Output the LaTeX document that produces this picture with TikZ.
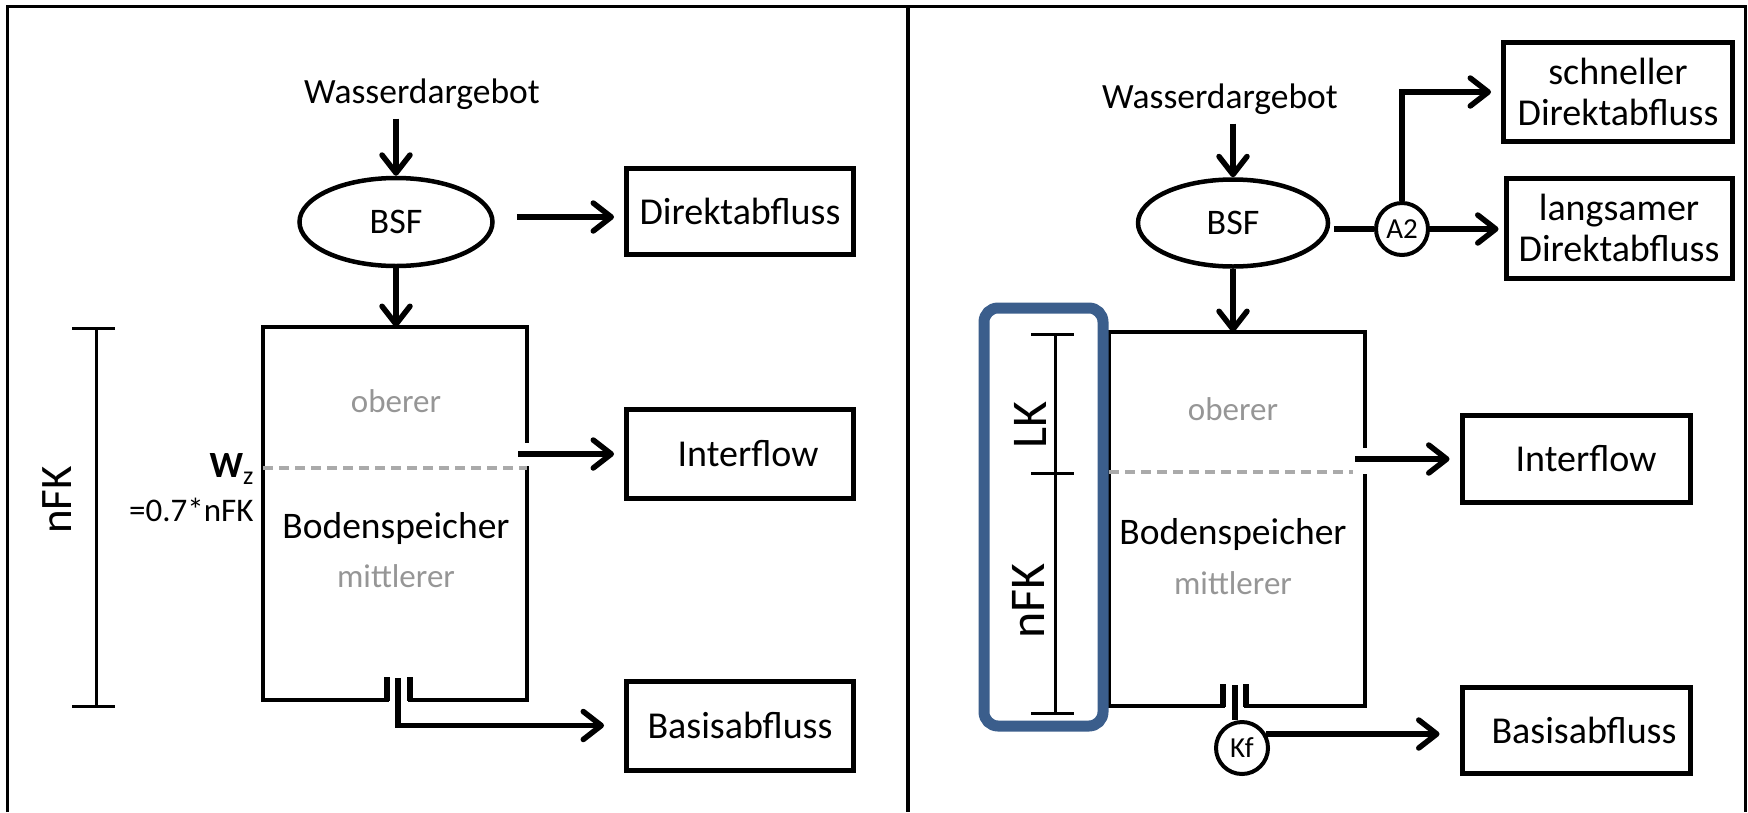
\documentclass[tikz,border=0pt]{standalone}
\usepackage{fontspec}
\setmainfont{Carlito}
\usetikzlibrary{arrows.meta,shapes.geometric}

\definecolor{rahmenblau}{RGB}{59,94,140}
\definecolor{strichgrau}{RGB}{170,170,170}
\definecolor{textgrau}{RGB}{150,150,150}

\newcommand{\schrift}[1]{\fontsize{#1}{#1}\selectfont}

\tikzset{
  kasten/.style={draw,line width=5pt,inner sep=0pt,align=center,font=\schrift{38}},
  ovall/.style={ellipse,draw,line width=4.5pt,inner sep=0pt,minimum width=193pt,minimum height=88pt,font=\schrift{36}},
  kreis/.style={circle,draw,line width=4pt,inner sep=0pt,minimum size=52pt,fill=white,font=\schrift{29}},
  pfeil/.style={line width=5.5pt,-{Straight Barb[length=18pt,width=28pt,round]}},
  linie/.style={line width=5.5pt},
  wand/.style={line width=4.5pt,line join=miter},
  mass/.style={line width=3pt},
  trennung/.style={line width=3.5pt,strichgrau,dash pattern=on 10pt off 6pt},
  grau/.style={text=textgrau,font=\schrift{33}}
}

\begin{document}
\begin{tikzpicture}[x=1pt,y=-1pt]
\useasboundingbox (0,0) rectangle (1748,812);
% Rahmen
\draw[line width=3pt] (7,812) -- (7,6) -- (1745,6) -- (1745,812);
\draw[line width=3.5pt] (908,6) -- (908,812);

% ---- links ----
\node[font=\schrift{35.5},anchor=base] (wasserL) at (422,103) {Wasserdargebot};
\node[ovall] (bsfL) at (396,222) {BSF};
\node[kasten,minimum width=227pt,minimum height=86pt] (direktL) at (740,211) {Direktabfluss};
\node[kasten,minimum width=227pt,minimum height=89pt] (interL) at (740,453.5) {\hspace*{16pt}Interflow};
\node[kasten,minimum width=227pt,minimum height=89pt] (basisL) at (740,725.5) {Basisabfluss};

% Bodenspeicher
\draw[wand] (387,678) -- (387,700) -- (263,700) -- (263,327) -- (527,327) -- (527,443);
\draw[wand] (527,466) -- (527,700) -- (410,700) -- (410,678);
\draw[line width=6pt] (387,677) -- (387,701) (410,677) -- (410,701);
\coordinate (topL) at (396,327);
\coordinate (ausL) at (518,454);
\coordinate (rohrL) at (398,678);
\draw[trennung] (263,468) -- (527,468);
\node[grau] (obenL) at (396,401) {oberer};
\node[font=\schrift{37.5}] (speicherL) at (396,528) {Bodenspeicher};
\node[grau] (mitteL) at (396,576) {mittlerer};
\node[anchor=base east,font=\schrift{37}] (wzL) at (257,477) {\textbf{W}\raisebox{-7pt}{\schrift{26}z}};
\node[anchor=base east,font=\schrift{33}] (wzwert) at (257,521) {=0.7*nFK};

\draw[pfeil,shorten <=6pt] (wasserL.south -| bsfL.north) -- (bsfL.north);
\draw[pfeil] (bsfL.south) -- (topL);
\draw[pfeil,shorten <=22pt,shorten >=10pt] ([yshift=5pt]bsfL.east) -- ([yshift=5pt]bsfL.east -| direktL.west);
\draw[pfeil,shorten >=10pt] (ausL) -- (ausL -| interL.west);
\draw[pfeil,shorten >=20pt] (rohrL) |- (basisL.west);

% nFK
\draw[mass] (72,328) -- (115,328) (96,328) -- (96,706) (72,706) -- (115,706);
\node[rotate=90,font=\schrift{45}] (nfkL) at (57,500) {nFK};

% ---- rechts ----
\node[font=\schrift{35.5},anchor=base] (wasserR) at (1220,108) {Wasserdargebot};
\node[ovall,minimum width=190pt,minimum height=87pt] (bsfR) at (1233,223) {BSF};
\node[kreis] (a2) at (1402,229) {A2};
\node[kasten,minimum width=229pt,minimum height=99pt,font=\fontsize{38}{41}\selectfont] (schnell) at (1618,92) {schneller\\Direktabfluss};
\node[kasten,minimum width=226pt,minimum height=100pt,font=\fontsize{38}{41}\selectfont] (langsam) at (1619,228) {langsamer\\Direktabfluss};
\node[kasten,minimum width=228pt,minimum height=87pt] (interR) at (1576,458.5) {\hspace*{20pt}Interflow};
\node[kasten,minimum width=228pt,minimum height=86pt] (basisR) at (1576,730) {\hspace*{16pt}Basisabfluss};

% Bodenspeicher
\draw[wand] (1223,685) -- (1223,706) -- (1109,706) -- (1109,332) -- (1365,332) -- (1365,448);
\draw[wand] (1365,474) -- (1365,706) -- (1246,706) -- (1246,685);
\draw[line width=6pt] (1223,684) -- (1223,707) (1246,684) -- (1246,707);
\coordinate (topR) at (1233,332);
\coordinate (ausR) at (1355,459);
\coordinate (rohrR) at (1235,685);
\draw[trennung] (1109,472) -- (1353,472);
\node[grau] (obenR) at (1233,409) {oberer};
\node[font=\schrift{37.5}] (speicherR) at (1233,534) {Bodenspeicher};
\node[grau] (mitteR) at (1233,583) {mittlerer};
\node[kreis] (kf) at (1242,748) {Kf};

\draw[pfeil,shorten <=6pt] (wasserR.south -| bsfR.north) -- (bsfR.north);
\draw[pfeil] (bsfR.south) -- (topR);
\draw[linie,shorten <=4pt] (a2.west -| bsfR.east) -- (a2.west);
\draw[pfeil,shorten >=10pt] (a2.north) |- (schnell.west);
\draw[pfeil,shorten >=5pt] (a2.east) -- (a2.east -| langsam.west);
\draw[pfeil,shorten >=10pt] (ausR) -- (ausR -| interR.west);
\draw[linie] (rohrR) -- (rohrR |- kf.north);
\draw[pfeil,shorten >=20pt] (kf.30) -- (kf.30 -| basisR.west);

% LK / nFK
\draw[rahmenblau,line width=11pt,rounded corners=14pt] (984,308) rectangle (1103,726);
\draw[mass] (1031,334) -- (1074,334) (1055,334) -- (1055,713) (1031,473) -- (1074,473) (1031,713) -- (1074,713);
\node[rotate=90,font=\schrift{50}] (lk) at (1030,425) {LK};
\node[rotate=90,font=\schrift{50}] (nfkR) at (1028,601) {nFK};
\end{tikzpicture}
\end{document}
